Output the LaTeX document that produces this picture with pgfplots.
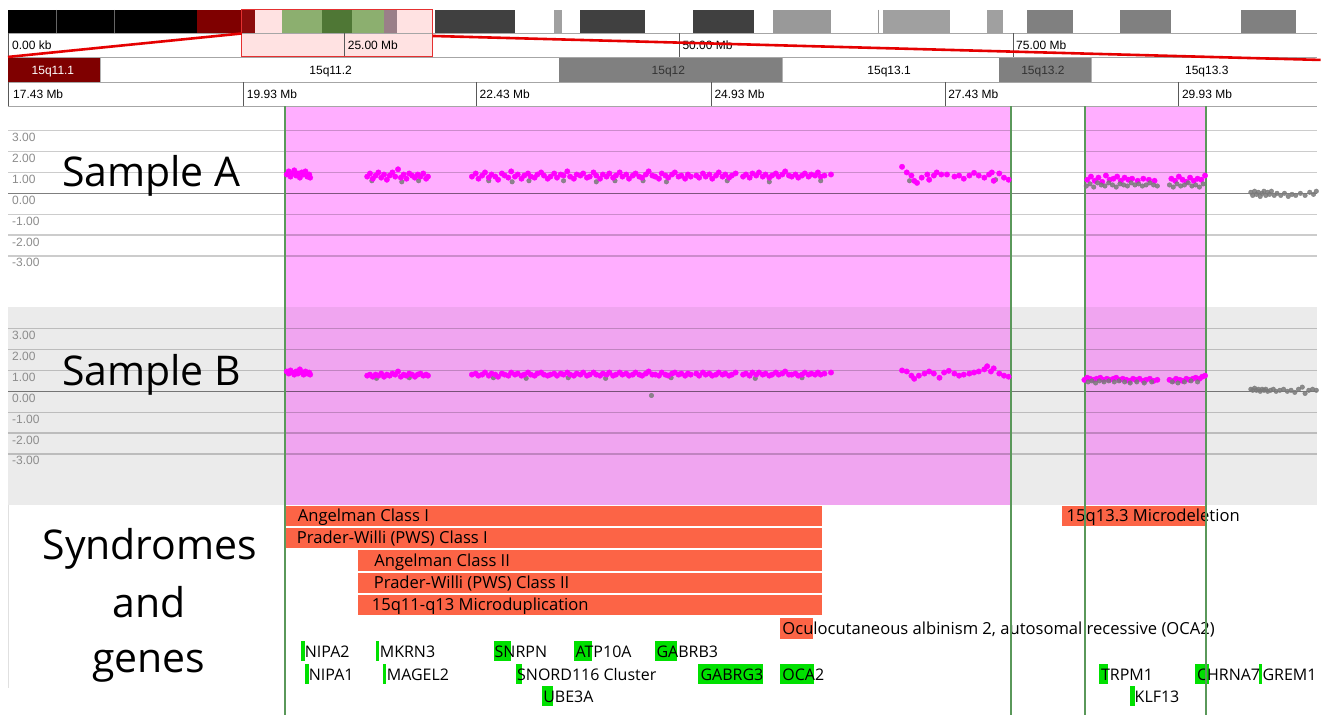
\documentclass[border=0pt]{standalone}
\usepackage{fontspec}
\setmainfont{Open Sans}
\newfontfamily\arial{Liberation Sans}
\usepackage{pgfplots}
\pgfplotsset{compat=1.18}
\definecolor{pinkA}{HTML}{FFAEFF}
\definecolor{pinkB}{HTML}{F0A5F0}
\definecolor{grayB}{HTML}{EBEBEB}
\definecolor{mag}{HTML}{FF00FF}
\definecolor{ptgray}{HTML}{7A7A7A}
\definecolor{synd}{HTML}{FC6446}
\definecolor{gene}{HTML}{00E000}
\definecolor{vline}{HTML}{5A985A}
\definecolor{dred}{HTML}{7F0000}
\definecolor{dred2}{HTML}{8C0C0C}
\definecolor{gA}{HTML}{8CAF6F}
\definecolor{gB}{HTML}{4F7735}
\definecolor{mauve}{HTML}{9A7F88}
\definecolor{lpink}{HTML}{FFE2E2}
\definecolor{boxred}{HTML}{E53030}
\definecolor{bgray}{HTML}{808080}
\definecolor{dgray}{HTML}{404040}
\definecolor{mgray}{HTML}{A0A0A0}
\newcommand{\R}[5]{\fill[#5] (axis cs:#1,#2) rectangle (axis cs:#3,#4);}
\newcommand{\ST}[3]{\node[anchor=base west, inner sep=0, font=\fontsize{16.6}{17}\selectfont] at (axis cs:#1,#2) {#3};}
\newcommand{\GT}[3]{\node[anchor=base west, inner sep=0, font=\fontsize{16}{16}\selectfont] at (axis cs:#1,#2) {#3};}
\newcommand{\AL}[3]{\node[anchor=base west, inner sep=0, font=\arial\fontsize{12}{12}\selectfont] at (axis cs:#1,#2) {#3};}
\newcommand{\TL}[2]{\node[anchor=north west, inner sep=0, text=black!45, font=\arial\fontsize{12}{12}\selectfont] at (axis cs:12,#1) {#2};}
\pgfplotsset{
 sA/.style={x filter/.expression={10+(x-17.43)*93.6}, y filter/.expression={193.5-20.9*y}},
 sB/.style={x filter/.expression={10+(x-17.43)*93.6}, y filter/.expression={391.7-20.9*y}},
 magp/.style={only marks, mark=*, mark size=2.7pt, color=mag},
 grayp/.style={only marks, mark=*, mark size=2.3pt, color=ptgray, opacity=0.85},
 grid/.style={draw=black, draw opacity=0.2, line width=1.3pt},
 zero/.style={draw=black, draw opacity=0.5, line width=1.6pt},
}
\begin{document}
\begin{tikzpicture}
\begin{axis}[scale only axis, width=1322pt, height=716pt, xmin=0, xmax=1322, ymin=0, ymax=716, y dir=reverse, hide axis, clip=false]
\fill[white] (axis cs:0,0) rectangle (axis cs:1322,716);
% ---------- ideogram ----------
\R{8}{10}{197}{33}{black}
\draw[black!60, line width=0.7pt] (axis cs:56,10)--(axis cs:56,33) (axis cs:114,10)--(axis cs:114,33);
\R{197}{10}{242}{33}{dred}
\R{242}{10}{255}{33}{dred2}
\R{255}{10}{282}{33}{lpink}
\R{282}{10}{322}{33}{gA}
\R{322}{10}{352}{33}{gB}
\R{352}{10}{384}{33}{gA}
\R{384}{10}{397}{33}{mauve}
\R{397}{10}{433}{33}{lpink}
\R{435}{10}{516}{33}{dgray}
\R{555}{10}{563}{33}{mgray}
\R{581}{10}{646}{33}{dgray}
\R{694}{10}{755}{33}{dgray}
\R{774}{10}{832}{33}{black!40}
\draw[black!40, line width=0.8pt] (axis cs:879,10)--(axis cs:879,33);
\R{884}{10}{951}{33}{mgray}
\R{988}{10}{1004}{33}{mgray}
\R{1028}{10}{1074}{33}{bgray}
\R{1121}{10}{1172}{33}{bgray}
\R{1242}{10}{1297}{33}{bgray}
% ---------- scale row ----------
\R{242}{33.5}{433}{57}{lpink}
\draw[black!35, line width=0.8pt] (axis cs:8,33.5)--(axis cs:1318,33.5) (axis cs:8,57.5)--(axis cs:1318,57.5) (axis cs:8,82.5)--(axis cs:1318,82.5) (axis cs:8,106.5)--(axis cs:1318,106.5);
\draw[black!65, line width=0.8pt] (axis cs:8,33.5)--(axis cs:8,106.5) (axis cs:345,33.5)--(axis cs:345,57.5) (axis cs:680,33.5)--(axis cs:680,57.5) (axis cs:1014,33.5)--(axis cs:1014,57.5);
\AL{12}{50}{0.00 kb}
\AL{348}{50}{25.00 Mb}
\AL{683}{50}{50.00 Mb}
\AL{1017}{50}{75.00 Mb}
% ---------- band row ----------
\R{8.5}{58}{100}{82}{dred}
\R{560}{58}{783}{82}{bgray}
\R{1000}{58}{1092}{82}{bgray}
\draw[black!30, line width=0.6pt] (axis cs:100,58)--(axis cs:100,82) (axis cs:783,58)--(axis cs:783,82) (axis cs:1092,58)--(axis cs:1092,82);
\node[anchor=base, inner sep=0, text=white, font=\arial\fontsize{12}{12}\selectfont] at (axis cs:53,74.5) {15q11.1};
\node[anchor=base, inner sep=0, font=\arial\fontsize{12}{12}\selectfont] at (axis cs:331,74.5) {15q11.2};
\node[anchor=base, inner sep=0, text=black!80, font=\arial\fontsize{12}{12}\selectfont] at (axis cs:669,74.5) {15q12};
\node[anchor=base, inner sep=0, font=\arial\fontsize{12}{12}\selectfont] at (axis cs:890,74.5) {15q13.1};
\node[anchor=base, inner sep=0, text=black!80, font=\arial\fontsize{12}{12}\selectfont] at (axis cs:1044,74.5) {15q13.2};
\node[anchor=base, inner sep=0, font=\arial\fontsize{12}{12}\selectfont] at (axis cs:1208,74.5) {15q13.3};
% ---------- Mb row ----------
\draw[black!65, line width=0.8pt] (axis cs:244,82.5)--(axis cs:244,106.5) (axis cs:477,82.5)--(axis cs:477,106.5) (axis cs:712,82.5)--(axis cs:712,106.5) (axis cs:946,82.5)--(axis cs:946,106.5) (axis cs:1180,82.5)--(axis cs:1180,106.5);
\AL{13}{99}{17.43 Mb}
\AL{247}{99}{19.93 Mb}
\AL{480}{99}{22.43 Mb}
\AL{715}{99}{24.93 Mb}
\AL{949}{99}{27.43 Mb}
\AL{1183}{99}{29.93 Mb}
% zoom box and red lines
\draw[boxred, line width=1.1pt] (axis cs:242,9.5) rectangle (axis cs:433,57);
\draw[red!90!black, line width=2.6pt] (axis cs:8,57) -- (axis cs:242,33.5);
\draw[red!90!black, line width=2.6pt] (axis cs:433,36) -- (axis cs:1322,60);
% ---------- panels ----------
\R{8}{107}{1318}{307}{white}
\R{8}{307}{1318}{505}{grayB}
\R{285}{107}{1012}{307}{pinkA}
\R{1086}{107}{1207}{307}{pinkA}
\R{285}{307}{1012}{505}{pinkB}
\R{1086}{307}{1207}{505}{pinkB}
% grid lines (log ratio values)
\addplot[sA, grid] coordinates {(17.409,3) (31.405,3)};
\addplot[sA, grid] coordinates {(17.409,2) (31.405,2)};
\addplot[sA, grid] coordinates {(17.409,1) (31.405,1)};
\addplot[sA, zero] coordinates {(17.409,0) (31.405,0)};
\addplot[sA, grid] coordinates {(17.409,-1) (31.405,-1)};
\addplot[sA, grid] coordinates {(17.409,-2) (31.405,-2)};
\addplot[sA, grid] coordinates {(17.409,-3) (31.405,-3)};
\addplot[sB, grid] coordinates {(17.409,3) (31.405,3)};
\addplot[sB, grid] coordinates {(17.409,2) (31.405,2)};
\addplot[sB, grid] coordinates {(17.409,1) (31.405,1)};
\addplot[sB, zero] coordinates {(17.409,0) (31.405,0)};
\addplot[sB, grid] coordinates {(17.409,-1) (31.405,-1)};
\addplot[sB, grid] coordinates {(17.409,-2) (31.405,-2)};
\addplot[sB, grid] coordinates {(17.409,-3) (31.405,-3)};
\TL{133}{3.00}\TL{154}{2.00}\TL{175}{1.00}\TL{196}{0.00}\TL{217}{-1.00}\TL{238}{-2.00}\TL{258.5}{-3.00}
\TL{331}{3.00}\TL{352}{2.00}\TL{373}{1.00}\TL{394}{0.00}\TL{415}{-1.00}\TL{436}{-2.00}\TL{456.5}{-3.00}
% ---------- Sample A ----------
\addplot[sA, grayp] coordinates {(21.30,0.60) (21.62,0.55) (21.80,0.60) (22.55,0.60) (22.80,0.55) (22.98,0.60) (23.35,0.60) (23.70,0.55) (23.90,0.60) (24.20,0.60) (24.45,0.55) (25.10,0.60) (25.55,0.55) (26.10,0.60) (27.05,0.60) (27.97,0.65)};
\addplot[sA, magp] coordinates {
(20.39,0.90) (20.41,1.05) (20.43,0.80) (20.45,0.95) (20.47,1.10) (20.49,0.85) (20.51,0.95) (20.53,0.75) (20.55,1.00) (20.57,0.90) (20.59,1.05) (20.61,0.80) (20.63,0.90) (20.64,0.75)
(21.25,0.80) (21.28,0.95) (21.31,0.70) (21.34,0.85) (21.37,1.00) (21.40,0.75) (21.43,0.90) (21.46,0.65) (21.49,0.85) (21.52,1.00) (21.55,0.80) (21.58,1.15) (21.61,0.75) (21.64,0.90) (21.67,0.70) (21.70,0.95) (21.73,0.85) (21.76,0.75) (21.79,0.90) (21.82,0.80) (21.85,0.95) (21.88,0.70) (21.90,0.80)
(22.37,0.80) (22.41,0.95) (22.44,0.70) (22.48,0.85) (22.51,1.00) (22.55,0.75) (22.58,0.90) (22.62,0.80) (22.65,0.65) (22.69,0.95) (22.72,0.85) (22.76,0.75) (22.79,1.05) (22.83,0.80) (22.86,0.90) (22.90,0.70) (22.93,0.85) (22.97,0.95) (23.00,0.80) (23.04,0.75) (23.07,0.90) (23.11,1.00) (23.14,0.85) (23.18,0.70) (23.21,0.80) (23.25,0.95) (23.28,0.75) (23.32,0.90) (23.35,0.85) (23.39,1.05) (23.42,0.80) (23.46,0.70) (23.49,0.90) (23.53,0.85) (23.56,0.95) (23.60,0.75) (23.63,0.80) (23.67,1.00) (23.70,0.85) (23.74,0.70) (23.77,0.90) (23.81,0.80) (23.84,0.95) (23.88,0.75) (23.91,0.85) (23.95,1.00) (23.98,0.80) (24.02,0.90) (24.05,0.70) (24.09,0.85) (24.12,0.95) (24.16,0.80) (24.19,0.75) (24.23,0.90) (24.26,1.05) (24.30,0.85) (24.33,0.80) (24.37,0.70) (24.40,0.95) (24.44,0.85) (24.47,0.75) (24.51,0.90) (24.54,1.00) (24.58,0.80) (24.61,0.85) (24.65,0.70) (24.68,0.90) (24.71,0.80)
(24.77,0.85) (24.80,0.75) (24.84,0.95) (24.87,0.80) (24.91,0.90) (24.94,0.70) (24.98,0.85) (25.01,1.00) (25.05,0.80) (25.08,0.90) (25.12,0.75) (25.15,0.85) (25.19,0.95)
(25.27,0.80) (25.30,0.90) (25.34,0.75) (25.37,0.95) (25.41,0.85) (25.44,1.00) (25.48,0.80) (25.51,0.90) (25.55,0.75) (25.58,0.85) (25.62,0.95) (25.65,0.80) (25.69,0.90) (25.72,1.05) (25.76,0.85) (25.79,0.80) (25.83,0.90) (25.86,0.75) (25.90,0.85) (25.93,0.95) (25.97,0.80) (26.00,0.90) (26.04,0.85) (26.07,1.00) (26.10,0.80) (26.14,0.85) (26.21,0.90)
(26.97,1.27) (27.02,1.00) (27.07,0.85) (27.10,0.60) (27.13,0.50) (27.18,0.75) (27.24,0.90) (27.26,0.65) (27.31,0.85) (27.34,1.00) (27.39,0.90) (27.45,0.90) (27.53,0.80) (27.58,0.85) (27.63,0.70) (27.69,0.85) (27.74,0.98) (27.79,0.85) (27.85,0.75) (27.90,0.90) (27.93,1.00) (27.95,0.60) (28.01,0.95) (28.06,0.75) (28.11,0.65)
(28.95,0.65) (28.99,0.80) (29.03,0.60) (29.07,0.75) (29.11,0.55) (29.15,0.85) (29.19,0.65) (29.23,0.70) (29.27,0.80) (29.31,0.60) (29.35,0.75) (29.39,0.65) (29.43,0.70) (29.49,0.60) (29.55,0.70) (29.61,0.65) (29.67,0.60) (29.85,0.70) (29.89,0.60) (29.93,0.80) (29.97,0.65) (30.01,0.55) (30.05,0.75) (30.09,0.60) (30.13,0.70) (30.17,0.65) (30.21,0.85)
};
\addplot[sA, grayp] coordinates {
(28.94,0.35) (28.98,0.45) (29.02,0.30) (29.06,0.50) (29.10,0.40) (29.14,0.35) (29.18,0.50) (29.22,0.40) (29.26,0.30) (29.30,0.45) (29.34,0.40) (29.38,0.35) (29.42,0.50) (29.46,0.40) (29.50,0.45) (29.54,0.35) (29.58,0.40) (29.62,0.50) (29.66,0.40) (29.70,0.35) (29.83,0.40) (29.87,0.30) (29.91,0.45) (29.95,0.35) (29.99,0.40) (30.03,0.50) (30.07,0.35) (30.11,0.40) (30.15,0.30) (30.19,0.45)
(30.70,0.05) (30.72,-0.10) (30.74,0.10) (30.76,-0.05) (30.78,0.05) (30.80,-0.15) (30.82,0.00) (30.84,0.10) (30.86,-0.10) (30.88,0.05) (30.90,-0.05) (30.92,0.10) (30.95,-0.10) (30.98,0.00) (31.02,-0.10) (31.06,0.00) (31.10,-0.15) (31.14,-0.05) (31.18,-0.10) (31.23,0.00) (31.28,-0.10) (31.33,0.05) (31.37,-0.05) (31.40,0.10)
};
% ---------- Sample B ----------
\addplot[sB, grayp] coordinates {(21.35,0.62) (21.70,0.65) (22.60,0.65) (22.95,0.62) (23.40,0.65) (23.80,0.62) (24.29,-0.20) (24.50,0.65) (25.40,0.62) (25.90,0.65)};
\addplot[sB, magp] coordinates {
(20.39,0.95) (20.41,0.85) (20.43,1.00) (20.45,0.90) (20.47,0.80) (20.49,0.95) (20.51,0.85) (20.53,1.05) (20.55,0.90) (20.57,0.80) (20.59,0.95) (20.61,0.85) (20.63,0.90) (20.64,0.80)
(21.25,0.75) (21.28,0.80) (21.31,0.70) (21.34,0.80) (21.37,0.75) (21.40,0.85) (21.43,0.70) (21.46,0.80) (21.49,0.75) (21.52,0.85) (21.55,0.80) (21.58,0.95) (21.61,0.70) (21.64,0.80) (21.67,0.75) (21.70,0.85) (21.73,0.80) (21.76,0.70) (21.79,0.80) (21.82,0.85) (21.85,0.75) (21.88,0.80) (21.90,0.75)
(22.37,0.80) (22.41,0.85) (22.44,0.75) (22.48,0.80) (22.51,0.90) (22.55,0.75) (22.58,0.85) (22.62,0.80) (22.65,0.70) (22.69,0.85) (22.72,0.80) (22.76,0.75) (22.79,0.90) (22.83,0.80) (22.86,0.85) (22.90,0.75) (22.93,0.80) (22.97,0.90) (23.00,0.80) (23.04,0.75) (23.07,0.85) (23.11,0.90) (23.14,0.80) (23.18,0.75) (23.21,0.80) (23.25,0.85) (23.28,0.75) (23.32,0.85) (23.35,0.80) (23.39,0.90) (23.42,0.80) (23.46,0.75) (23.49,0.85) (23.53,0.80) (23.56,0.90) (23.60,0.75) (23.63,0.80) (23.67,0.90) (23.70,0.80) (23.74,0.75) (23.77,0.85) (23.81,0.80) (23.84,0.90) (23.88,0.75) (23.91,0.80) (23.95,0.90) (23.98,0.80) (24.02,0.85) (24.05,0.75) (24.09,0.80) (24.12,0.90) (24.16,0.80) (24.19,0.75) (24.23,0.85) (24.26,0.95) (24.30,0.80) (24.33,0.80) (24.37,0.75) (24.40,0.90) (24.44,0.80) (24.47,0.75) (24.51,0.85) (24.54,0.90) (24.58,0.80) (24.61,0.85) (24.65,0.75) (24.68,0.85) (24.71,0.80)
(24.77,0.85) (24.80,0.75) (24.84,0.90) (24.87,0.80) (24.91,0.85) (24.94,0.75) (24.98,0.80) (25.01,0.90) (25.05,0.80) (25.08,0.85) (25.12,0.75) (25.15,0.80) (25.19,0.90)
(25.27,0.80) (25.30,0.85) (25.34,0.75) (25.37,0.90) (25.41,0.80) (25.44,0.90) (25.48,0.80) (25.51,0.85) (25.55,0.75) (25.58,0.80) (25.62,0.90) (25.65,0.80) (25.69,0.85) (25.72,0.95) (25.76,0.80) (25.79,0.80) (25.83,0.85) (25.86,0.75) (25.90,0.80) (25.93,0.90) (25.97,0.80) (26.00,0.85) (26.04,0.80) (26.07,0.90) (26.10,0.80) (26.14,0.85) (26.21,0.90)
(26.97,1.00) (27.02,0.95) (27.07,0.75) (27.10,0.60) (27.15,0.75) (27.21,0.85) (27.26,0.95) (27.31,0.85) (27.37,0.65) (27.42,0.90) (27.47,0.98) (27.53,0.85) (27.58,0.75) (27.63,0.80) (27.69,0.85) (27.74,0.90) (27.79,0.95) (27.85,1.05) (27.88,1.20) (27.92,0.95) (27.95,1.10) (28.01,0.85) (28.06,0.75) (28.11,0.70)
(28.92,0.55) (28.95,0.65) (28.98,0.60) (29.02,0.55) (29.05,0.60) (29.09,0.65) (29.12,0.55) (29.16,0.60) (29.19,0.55) (29.23,0.60) (29.26,0.65) (29.30,0.55) (29.33,0.60) (29.37,0.55) (29.40,0.50) (29.44,0.60) (29.47,0.55) (29.51,0.60) (29.55,0.50) (29.58,0.55) (29.62,0.60) (29.66,0.50) (29.70,0.55) (29.83,0.55) (29.87,0.50) (29.90,0.60) (29.94,0.55) (29.97,0.50) (30.01,0.60) (30.04,0.55) (30.08,0.60) (30.11,0.65) (30.15,0.60) (30.18,0.70) (30.21,0.75)
};
\addplot[sB, grayp] coordinates {
(28.96,0.45) (29.00,0.50) (29.04,0.40) (29.08,0.50) (29.13,0.45) (29.18,0.50) (29.24,0.45) (29.29,0.50) (29.35,0.45) (29.41,0.40) (29.48,0.45) (29.56,0.40) (29.64,0.45) (29.86,0.45) (29.92,0.40) (29.99,0.45) (30.06,0.50) (30.13,0.45)
(30.70,0.10) (30.72,0.05) (30.74,0.15) (30.76,0.05) (30.78,0.10) (30.80,0.00) (30.82,0.10) (30.84,0.05) (30.86,0.10) (30.88,0.00) (30.91,0.05) (30.94,0.10) (30.97,0.00) (31.01,0.05) (31.05,0.10) (31.09,0.00) (31.13,0.05) (31.17,-0.05) (31.21,0.10) (31.25,0.20) (31.28,-0.10) (31.32,0.05) (31.36,0.10) (31.40,0.05)
};
\node[anchor=base west, inner sep=0, font=\fontsize{41}{41}\selectfont] at (axis cs:62,187) {Sample A};
\node[anchor=base west, inner sep=0, font=\fontsize{41}{41}\selectfont] at (axis cs:62,386) {Sample B};
% ---------- syndromes ----------
\draw[black!12, line width=0.8pt] (axis cs:8,505)--(axis cs:8,689);
\R{285}{506}{823}{527}{synd}
\R{285}{529}{823}{549}{synd}
\R{358}{551}{823}{572}{synd}
\R{358}{574}{823}{594}{synd}
\R{358}{596}{823}{616}{synd}
\R{781}{619}{814}{640}{synd}
\R{1063}{506}{1207}{527}{synd}
\ST{298}{522}{Angelman Class I}
\ST{297}{544.5}{Prader-Willi (PWS) Class I}
\ST{374.5}{567}{Angelman Class II}
\ST{374}{589}{Prader-Willi (PWS) Class II}
\ST{372}{611.5}{15q11-q13 Microduplication}
\ST{783}{635}{Oculocutaneous albinism 2, autosomal recessive (OCA2)}
\ST{1067.5}{522}{15q13.3 Microdeletion}
% ---------- genes ----------
\R{301}{642}{305}{662}{gene}
\R{376.5}{642}{379.3}{662}{gene}
\R{494}{642}{511.5}{662}{gene}
\R{575}{642}{593}{662}{gene}
\R{656}{642}{677.5}{662}{gene}
\R{305.5}{665}{309.3}{685}{gene}
\R{383.6}{665}{386.4}{685}{gene}
\R{516.8}{665}{523}{685}{gene}
\R{698.6}{665}{764}{685}{gene}
\R{781}{665}{814.6}{685}{gene}
\R{1100.5}{665}{1109.5}{685}{gene}
\R{1196.5}{665}{1210}{685}{gene}
\R{1260}{665}{1263}{685}{gene}
\R{543}{687}{553.6}{707}{gene}
\R{1131}{687}{1136}{707}{gene}
\GT{305}{658}{NIPA2}
\GT{380}{658}{MKRN3}
\GT{495}{658}{SNRPN}
\GT{576}{658}{ATP10A}
\GT{657}{658}{GABRB3}
\GT{309}{681}{NIPA1}
\GT{387}{681}{MAGEL2}
\GT{517.5}{681}{SNORD116 Cluster}
\GT{701}{681}{GABRG3}
\GT{783}{681}{OCA2}
\GT{1102}{681}{TRPM1}
\GT{1198}{681}{CHRNA7}
\GT{1263.6}{681}{GREM1}
\GT{543.6}{703}{UBE3A}
\GT{1135.6}{703}{KLF13}
% ---------- boundary lines ----------
\draw[vline, line width=2.4pt] (axis cs:285,106.5)--(axis cs:285,716) (axis cs:1012,106.5)--(axis cs:1012,716) (axis cs:1086,106.5)--(axis cs:1086,716) (axis cs:1207,106.5)--(axis cs:1207,716);
% ---------- left labels ----------
\node[anchor=base, inner sep=0, font=\fontsize{41}{41}\selectfont] at (axis cs:150,560) {Syndromes};
\node[anchor=base, inner sep=0, font=\fontsize{41}{41}\selectfont] at (axis cs:149,618) {and};
\node[anchor=base, inner sep=0, font=\fontsize{41}{41}\selectfont] at (axis cs:149,673) {genes};
\end{axis}
\end{tikzpicture}
\end{document}
